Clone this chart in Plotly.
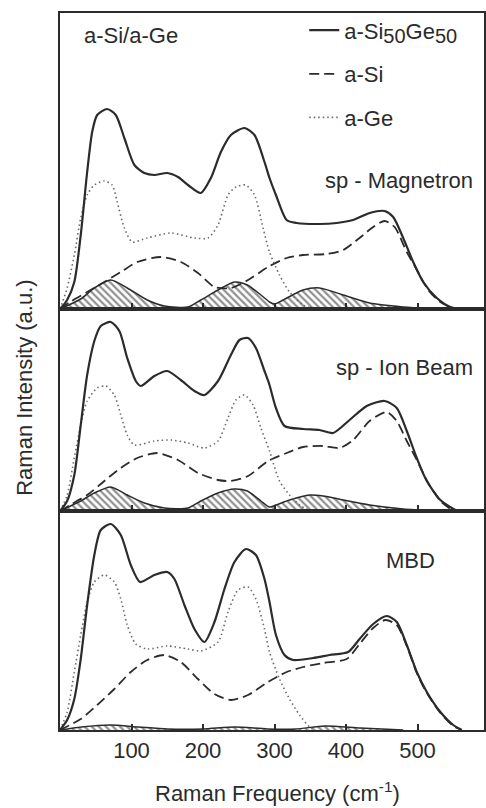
import plotly.graph_objects as go
from plotly.subplots import make_subplots

# ---------------- data (Raman intensity, a.u.) ----------------
# Panel 1: sp - Magnetron
mag_mix_f = [0, 10, 20, 29, 38, 45, 52, 66, 78, 90, 104, 118, 132, 150, 165, 179, 197, 211, 225, 239, 258, 272, 286, 293, 302, 317, 331, 363, 387, 410, 433, 454, 466, 480, 494, 508, 527, 546, 560]
mag_mix_i = [0, 9, 27, 74, 137, 177, 194, 200, 194, 171, 144, 136, 134, 136, 132, 124, 116, 131, 157, 174, 181, 174, 147, 131, 114, 89, 86, 85, 86, 89, 96, 98, 92, 71, 47, 27, 11, 2, 0]
mag_si_f = [0, 14, 38, 62, 85, 108, 141, 169, 193, 216, 239, 263, 291, 317, 340, 373, 396, 419, 438, 454, 468, 485, 500, 515, 530, 550]
mag_si_i = [0, 7, 17, 27, 37, 47, 52, 47, 36, 22, 21, 29, 42, 51, 54, 55, 59, 71, 82, 88, 82, 57, 38, 19, 8, 0]
mag_ge_f = [0, 10, 20, 29, 38, 48, 62, 73, 80, 90, 101, 122, 155, 188, 207, 221, 235, 246, 260, 272, 284, 293, 307, 321, 340, 355]
mag_ge_i = [0, 21, 54, 91, 114, 124, 128, 124, 107, 81, 67, 71, 76, 71, 71, 84, 114, 122, 124, 114, 81, 57, 34, 17, 4, 0]
mag_diff_f = [0, 29, 48, 71, 94, 122, 146, 179, 197, 221, 244, 262, 281, 293, 300, 312, 340, 363, 396, 433, 480, 520]
mag_diff_i = [0, 10, 21, 29, 21, 9, 3, 2, 9, 19, 27, 24, 14, 7, 5, 9, 19, 21, 14, 6, 2, 0]

# Panel 2: sp - Ion Beam
ion_mix_f = [0, 10, 20, 29, 38, 48, 57, 71, 83, 94, 106, 113, 132, 150, 169, 188, 202, 221, 239, 251, 263, 274, 286, 293, 302, 314, 340, 363, 382, 405, 429, 454, 471, 485, 499, 513, 532, 548, 556]
ion_mix_i = [0, 10, 36, 86, 136, 170, 185, 189, 180, 153, 130, 125, 135, 140, 131, 120, 116, 130, 156, 171, 173, 163, 140, 126, 103, 85, 82, 81, 78, 91, 105, 110, 103, 80, 53, 30, 11, 3, 0]
ion_si_f = [0, 14, 38, 62, 85, 108, 136, 165, 193, 221, 239, 263, 291, 317, 340, 368, 391, 410, 433, 457, 471, 485, 499, 515, 532, 550]
ion_si_i = [0, 6, 16, 30, 43, 53, 58, 51, 38, 31, 30, 35, 50, 58, 64, 65, 63, 71, 90, 99, 90, 70, 51, 28, 10, 0]
ion_ge_f = [0, 10, 20, 29, 38, 52, 64, 76, 85, 94, 104, 132, 155, 179, 202, 221, 235, 246, 258, 270, 281, 293, 307, 321, 335, 350]
ion_ge_i = [0, 16, 53, 86, 110, 123, 125, 116, 96, 76, 66, 70, 71, 68, 63, 70, 93, 111, 116, 106, 83, 60, 30, 16, 6, 0]
ion_diff_f = [0, 29, 48, 71, 94, 118, 146, 179, 197, 221, 244, 262, 281, 293, 302, 321, 349, 368, 396, 433, 480, 530]
ion_diff_i = [0, 10, 18, 24, 16, 8, 3, 3, 10, 18, 22, 20, 10, 4, 6, 11, 16, 15, 11, 6, 2, 0]

# Panel 3: MBD
mbd_mix_f = [0, 10, 20, 29, 38, 48, 57, 71, 85, 99, 112, 132, 150, 160, 174, 188, 202, 216, 230, 244, 260, 274, 286, 293, 302, 314, 326, 354, 377, 403, 419, 438, 457, 471, 485, 499, 513, 532, 550, 562]
mbd_mix_i = [0, 10, 31, 71, 125, 175, 200, 206, 195, 165, 148, 155, 158, 151, 125, 101, 88, 108, 141, 168, 181, 175, 151, 128, 95, 75, 70, 72, 75, 78, 91, 106, 114, 108, 85, 58, 38, 18, 5, 0]
mbd_si_f = [0, 29, 52, 76, 99, 122, 146, 169, 193, 216, 239, 263, 291, 317, 340, 368, 401, 419, 438, 455, 471, 485, 499, 513, 532, 550, 562]
mbd_si_i = [0, 11, 25, 41, 58, 70, 75, 68, 51, 36, 30, 35, 48, 58, 63, 67, 71, 86, 102, 110, 105, 84, 57, 37, 17, 4, 0]
mbd_ge_f = [0, 10, 20, 29, 38, 48, 62, 76, 85, 94, 106, 122, 150, 179, 197, 221, 235, 249, 263, 274, 286, 293, 307, 321, 335, 349, 356]
mbd_ge_i = [0, 18, 58, 95, 128, 148, 155, 148, 131, 105, 86, 81, 84, 81, 79, 88, 118, 140, 143, 131, 101, 78, 51, 31, 15, 3, 0]
mbd_diff_f = [0, 30, 70, 110, 150, 200, 245, 290, 330, 370, 420, 480]
mbd_diff_i = [0, 3, 5, 3, 1, 1, 3, 1, 1, 4, 2, 0]

x_ticks = [100, 200, 300, 400, 500]
panel_names = ["sp - Magnetron", "sp - Ion Beam", "MBD"]
y_max = [296, 202, 219]

panels = [
    (mag_mix_f, mag_mix_i, mag_si_f, mag_si_i, mag_ge_f, mag_ge_i, mag_diff_f, mag_diff_i),
    (ion_mix_f, ion_mix_i, ion_si_f, ion_si_i, ion_ge_f, ion_ge_i, ion_diff_f, ion_diff_i),
    (mbd_mix_f, mbd_mix_i, mbd_si_f, mbd_si_i, mbd_ge_f, mbd_ge_i, mbd_diff_f, mbd_diff_i),
]

FONT = "Liberation Sans, Arial, Helvetica, sans-serif"
INK = "#2b2b2b"
SUB = "<sub><span style='font-size:20px'>50</span></sub>"

fig = make_subplots(rows=3, cols=1, shared_xaxes=True, vertical_spacing=0,
                    row_heights=y_max)

for r, (mf, mi, sf, si, gf, gi, df, di) in enumerate(panels, start=1):
    first = (r == 1)
    fig.add_trace(go.Scatter(
        x=df, y=di, mode="lines", line=dict(color=INK, width=1.5, shape="spline", smoothing=0.7),
        fill="tozeroy", fillcolor="white",
        fillpattern=dict(shape="\\", fgcolor="#222222", bgcolor="white", size=5, solidity=0.45),
        showlegend=False, hoverinfo="skip"), row=r, col=1)
    fig.add_trace(go.Scatter(
        x=sf, y=si, mode="lines", name="a-Si", legendrank=2, legendgroup="si",
        line=dict(color=INK, width=1.8, dash="10px,5px", shape="spline", smoothing=0.7),
        showlegend=first), row=r, col=1)
    fig.add_trace(go.Scatter(
        x=gf, y=gi, mode="lines", name="a-Ge", legendrank=3, legendgroup="ge",
        line=dict(color="#6a6a6a", width=1.6, dash="1.5px,3px", shape="spline", smoothing=0.7),
        showlegend=first), row=r, col=1)
    fig.add_trace(go.Scatter(
        x=mf, y=mi, mode="lines", name="a-Si" + SUB + "Ge" + SUB, legendrank=1,
        legendgroup="mix",
        line=dict(color=INK, width=2.2, shape="spline", smoothing=0.7),
        showlegend=first), row=r, col=1)

for r in range(1, 4):
    fig.update_xaxes(range=[0, 593], tickvals=x_ticks, ticks="inside", ticklen=6,
                     tickwidth=1.5, tickcolor=INK, showline=True, linecolor=INK,
                     linewidth=2, mirror=True, showgrid=False, zeroline=False,
                     showticklabels=(r == 3), automargin=False,
                     tickfont=dict(family=FONT, size=22, color=INK), row=r, col=1)
    fig.update_yaxes(range=[0, y_max[r - 1]], showline=True, linecolor=INK, linewidth=2,
                     mirror=True, showticklabels=False, ticks="", showgrid=False,
                     zeroline=False, automargin=False, row=r, col=1)

annots = [
    dict(text="a-Si/a-Ge", x=0.052, y=0.969, xanchor="left", yanchor="middle"),
    dict(text=panel_names[0], x=0.979, y=0.767, xanchor="right", yanchor="middle"),
    dict(text=panel_names[1], x=0.979, y=0.506, xanchor="right", yanchor="middle"),
    dict(text=panel_names[2], x=0.889, y=0.237, xanchor="right", yanchor="middle"),
    dict(text="Raman Intensity (a.u.)", x=-0.083, y=0.477, xanchor="center",
         yanchor="middle", textangle=-90),
    dict(text="Raman Frequency (cm<sup>-1</sup>)", x=0.512, y=-0.087,
         xanchor="center", yanchor="middle"),
]
for a in annots:
    fig.add_annotation(xref="paper", yref="paper", showarrow=False,
                       font=dict(family=FONT, size=22, color=INK), **a)

fig.update_layout(
    width=486, height=808,
    margin=dict(l=60, r=2, t=13, b=78, autoexpand=False),
    paper_bgcolor="white", plot_bgcolor="white",
    showlegend=True,
    legend=dict(x=0.576, y=1.005, xanchor="left", yanchor="top",
                bgcolor="rgba(0,0,0,0)", borderwidth=0,
                font=dict(family=FONT, size=22, color=INK),
                itemwidth=30, tracegroupgap=12),
)

fig.write_html("out.html",
               config={"displayModeBar": False},
               post_script="document.body.style.margin='0';"
                           "document.body.style.overflow='hidden';")
